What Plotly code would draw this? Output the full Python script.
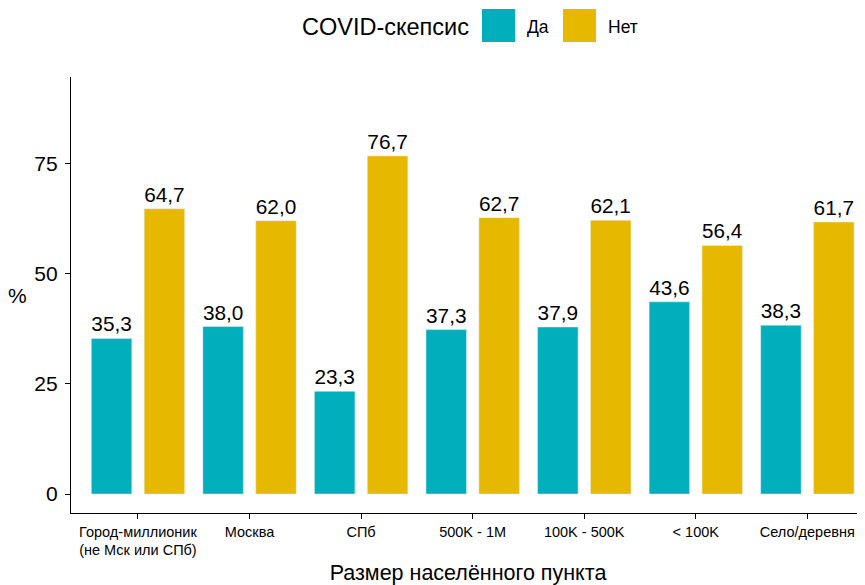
"""COVID scepticism by settlement size, grouped bars."""

import plotly.graph_objects as go

FONT = "Liberation Sans"
TEAL = "#00AFBB"
GOLD = "#E7B800"

categories = ["Город-миллионик", "Москва", "СПб", "500K - 1M", "100K - 500K", "< 100K", "Село/деревня"]
tick_labels = [
    "Город-миллионик<br>(не Мск или СПб)",
    "Москва",
    "СПб",
    "500K - 1M",
    "100K - 500K",
    "&lt; 100K",
    "Село/деревня",
]
yes_pct = [35.3, 38.0, 23.3, 37.3, 37.9, 43.6, 38.3]
no_pct = [64.7, 62.0, 76.7, 62.7, 62.1, 56.4, 61.7]
y_ticks = [0, 25, 50, 75]


def label(v):
    return f"{v:.1f}".replace(".", ",")


fig = go.Figure()
for name, vals, color, offset in [("Да", yes_pct, TEAL, -0.418), ("Нет", no_pct, GOLD, 0.056)]:
    fig.add_trace(
        go.Bar(
            x=categories,
            y=vals,
            name=name,
            marker_color=color,
            width=0.363,
            offset=offset,
            text=[label(v) for v in vals],
            textposition="outside",
            textfont=dict(family=FONT, size=21, color="black"),
            cliponaxis=False,
            showlegend=False,
        )
    )

# page body adds an 8px margin, so the figure is 8px smaller each way
fig.update_layout(
    width=857,
    height=577,
    margin=dict(l=63, r=0, t=69, b=72),
    plot_bgcolor="white",
    paper_bgcolor="white",
    barmode="overlay",
    font=dict(family=FONT, color="black"),
)
fig.update_xaxes(
    type="category",
    range=[-0.6, 6.517],
    tickvals=categories,
    ticktext=tick_labels,
    tickfont=dict(size=14.5, color="black"),
    showline=True,
    linecolor="black",
    linewidth=1.3,
    ticks="outside",
    ticklen=5,
    tickcolor="black",
    showgrid=False,
    title=dict(text="Размер населённого пункта", font=dict(size=21.5), standoff=11),
)
fig.update_yaxes(
    range=[-4.3, 94.6],
    tickvals=y_ticks,
    tickfont=dict(size=21, color="black"),
    showline=True,
    linecolor="black",
    linewidth=1.3,
    ticks="outside",
    ticklen=5,
    tickcolor="black",
    ticklabelstandoff=3,
    showgrid=False,
    zeroline=False,
)

# y title kept horizontal like the original
fig.add_annotation(text="%", xref="paper", yref="paper", x=0, y=0.5, xshift=-54,
                   xanchor="center", yanchor="middle", showarrow=False, font=dict(size=21))

# legend drawn by hand so the keys can be as large as in the original
fig.add_annotation(text="COVID-скепсис", xref="paper", yref="paper", x=0, y=1, xshift=400, yshift=50,
                   xanchor="right", yanchor="middle", showarrow=False, font=dict(size=23.5))
for name, color, x0 in [("Да", TEAL, 411), ("Нет", GOLD, 492)]:
    fig.add_shape(type="rect", xref="paper", yref="paper", xsizemode="pixel", ysizemode="pixel",
                  xanchor=0, yanchor=1, x0=x0, x1=x0 + 33, y0=35, y1=68,
                  fillcolor=color, line_width=0)
    fig.add_annotation(text=name, xref="paper", yref="paper", x=0, y=1, xshift=x0 + 43, yshift=50,
                       xanchor="left", yanchor="middle", showarrow=False, font=dict(size=17.5))

fig.write_html("out.html")
